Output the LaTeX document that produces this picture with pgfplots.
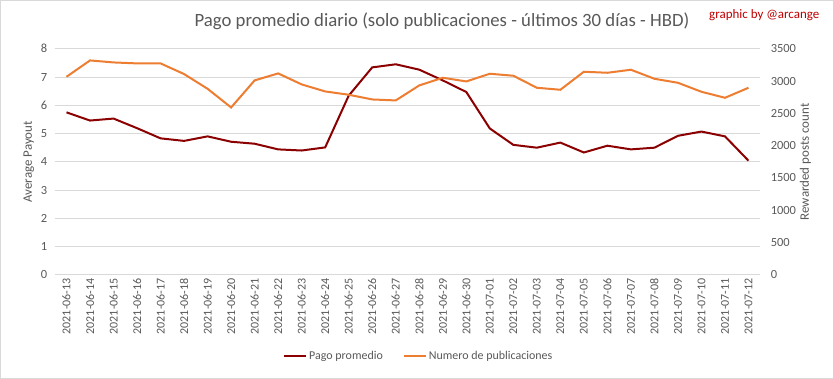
\documentclass[border=0pt]{standalone}
\usepackage{pgfplots}
\usepackage{pgfplotstable}
\pgfplotsset{compat=1.18}
\usepackage{fontspec}
\setmainfont{Carlito}
\definecolor{dred}{RGB}{139,0,0}
\definecolor{orng}{RGB}{237,125,49}
\definecolor{txt}{RGB}{89,89,89}
\definecolor{gridc}{RGB}{217,217,217}
\pgfplotstableread{
x pago num
0 5.75 3066
1 5.46 3319
2 5.53 3288
3 5.19 3273
4 4.83 3273
5 4.74 3108
6 4.90 2880
7 4.71 2591
8 4.64 3010
9 4.44 3118
10 4.40 2948
11 4.51 2839
12 6.34 2788
13 7.34 2715
14 7.45 2700
15 7.26 2932
16 6.88 3051
17 6.47 2994
18 5.18 3113
19 4.60 3082
20 4.50 2896
21 4.68 2865
22 4.33 3144
23 4.57 3128
24 4.44 3175
25 4.50 3035
26 4.92 2973
27 5.07 2834
28 4.90 2741
29 4.04 2896
}\datatable
\begin{document}
\begin{tikzpicture}
\draw[draw=gridc, fill=white] (0.5bp,0.5bp) rectangle (832.5bp,378.5bp);
\node[text=txt, font=\fontsize{18.8}{21}\selectfont] at (442bp,357bp) {Pago promedio diario (solo publicaciones - últimos 30 días - HBD)};
\node[text={rgb,255:red,192;green,0;blue,0}, font=\fontsize{13}{15}\selectfont] at (764bp,364bp) {graphic by @arcange};
\begin{axis}[
  at={(55bp,104bp)}, anchor=south west,
  scale only axis, width=705bp, height=226bp,
  xmin=-0.5, xmax=29.5, ymin=0, ymax=8,
  ytick={0,1,...,8},
  xtick={0,1,...,29},
  xticklabels={2021-06-13,2021-06-14,2021-06-15,2021-06-16,2021-06-17,2021-06-18,2021-06-19,2021-06-20,2021-06-21,2021-06-22,2021-06-23,2021-06-24,2021-06-25,2021-06-26,2021-06-27,2021-06-28,2021-06-29,2021-06-30,2021-07-01,2021-07-02,2021-07-03,2021-07-04,2021-07-05,2021-07-06,2021-07-07,2021-07-08,2021-07-09,2021-07-10,2021-07-11,2021-07-12},
  x tick label style={rotate=90, anchor=east, font=\fontsize{12}{14}\selectfont, text=txt},
  y tick label style={font=\fontsize{12.5}{14}\selectfont, text=txt, xshift=-4bp},
  /pgf/number format/assume math mode=true,
  axis line style={draw=none},
  major tick length=0pt,
  ymajorgrids, grid style={gridc, line width=0.8bp},
  ylabel={Average Payout},
  ylabel style={font=\fontsize{13}{15}\selectfont, text=txt},
  legend style={at={(axis description cs:0.516,-0.358)}, anchor=center, draw=none, fill=none, legend columns=2, font=\fontsize{12}{14}\selectfont, text=txt, /tikz/every even column/.append style={column sep=18bp}},
  legend image code/.code={\draw[#1] (0bp,0bp) -- (22bp,0bp);},
]
\addplot[dred, line width=2bp] table[x=x, y=pago] {\datatable};
\addlegendentry{Pago promedio}
\addlegendimage{orng, line width=2bp}
\addlegendentry{Numero de publicaciones}
\end{axis}
\begin{axis}[
  at={(55bp,104bp)}, anchor=south west,
  scale only axis, width=705bp, height=226bp,
  xmin=-0.5, xmax=29.5, ymin=0, ymax=3500,
  ytick={0,500,...,3500},
  axis y line*=right, axis x line=none,
  y axis line style={draw=none},
  major tick length=0pt,
  y tick label style={font=\fontsize{12.5}{14}\selectfont, text=txt, xshift=7bp},
  /pgf/number format/assume math mode=true,
  /pgf/number format/1000 sep={},
  ylabel={Rewarded posts count},
  ylabel style={font=\fontsize{13}{15}\selectfont, text=txt, yshift=3bp},
]
\addplot[orng, line width=2bp] table[x=x, y=num] {\datatable};
\end{axis}
\end{tikzpicture}
\end{document}
